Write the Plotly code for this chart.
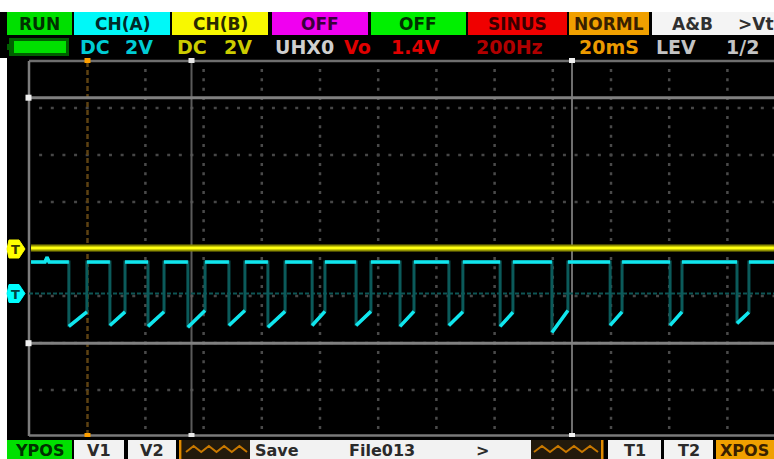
import plotly.graph_objects as go

# ---------------- data ----------------
# CH(A): 2 V/div, timebase 20 ms/div
high_v = 1.34                     # level of the flat tops (V)
start_ms = 0.7
end_ms = 256.0
bump_ms = [5.5, 6.2, 6.9]         # small glitch on the first top
bump_v = [1.34, 1.55, 1.34]
fall_ms = [13.7, 27.8, 40.9, 54.6, 68.7, 82.1, 97.3, 112.4, 127.5, 144.3,
           161.9, 179.7, 199.7, 220.3, 243.3]
rise_ms = [19.9, 33.0, 46.4, 60.5, 74.2, 88.0, 101.7, 117.5, 132.3, 149.1,
           166.3, 185.2, 203.8, 224.4, 247.4]
low_v = [-1.40, -1.36, -1.40, -1.44, -1.36, -1.44, -1.36, -1.36, -1.40, -1.36,
         -1.40, -1.66, -1.36, -1.36, -1.27]
ramp_top_v = [-0.78, -0.78, -0.78, -0.72, -0.72, -0.76, -0.76, -0.76, -0.76, -0.78,
              -0.80, -0.72, -0.78, -0.78, -0.80]
# CH(B): flat trace at 0 V
chb_ms = [0.7, 256.0]
chb_v = [0.0, 0.0]

top_labels = ["RUN", "CH(A)", "CH(B)", "OFF", "OFF", "SINUS", "NORML", "A&B"]
row2_texts = ["DC", "2V", "DC", "2V", "UHX0", "Vo", "1.4V", "200Hz", "20mS", "LEV", "1/2"]
bottom_labels = ["YPOS", "V1", "V2", "T1", "T2", "XPOS"]
save_texts = ["Save", "File013", ">"]

# ---------------- geometry / styling ----------------
W, H = 774, 459
PX_PER_MS = 58.2 / 20.0
PX_PER_V = 47.0 / 2.0
X0 = 29.0            # time 0 pixel
GND_A = 293.5        # CH A ground pixel
GND_B = 248.0        # CH B ground pixel


def X(px):
    return px / W


def Y(py):
    return 1 - py / H


# ---------------- build waveform path ----------------
path_x = [start_ms] + bump_ms
path_y = [high_v] + bump_v
bx, by = [start_ms] + bump_ms, [high_v] + bump_v
for i in range(len(fall_ms)):
    path_x += [fall_ms[i], fall_ms[i], rise_ms[i], rise_ms[i]]
    path_y += [high_v, low_v[i], ramp_top_v[i], high_v]
    bx += [fall_ms[i], None, fall_ms[i], rise_ms[i], None, rise_ms[i]]
    by += [high_v, None, low_v[i], ramp_top_v[i], None, high_v]
path_x.append(end_ms)
path_y.append(high_v)
bx.append(end_ms)
by.append(high_v)

fig = go.Figure()
fig.add_trace(go.Scatter(x=chb_ms, y=chb_v, yaxis="y2", mode="lines",
                         line=dict(color="#8f8f00", width=7), hoverinfo="skip"))
fig.add_trace(go.Scatter(x=chb_ms, y=chb_v, yaxis="y2", mode="lines",
                         line=dict(color="#ffff10", width=3), hoverinfo="skip"))
fig.add_trace(go.Scatter(x=path_x, y=path_y, mode="lines",
                         line=dict(color="#0b5a5a", width=3), hoverinfo="skip"))
fig.add_trace(go.Scatter(x=bx, y=by, mode="lines",
                         line=dict(color="#10e6ee", width=3.5), hoverinfo="skip"))

shapes = []
ann = []


def rect(x0, y0, x1, y1, fill, line_color=None, lw=0, layer="below"):
    shapes.append(dict(type="rect", xref="paper", yref="paper", x0=X(x0), x1=X(x1),
                       y0=Y(y1), y1=Y(y0), fillcolor=fill, layer=layer,
                       line=dict(color=line_color or fill, width=lw)))


def seg(x0, y0, x1, y1, color, width, dash="solid", layer="below"):
    shapes.append(dict(type="line", xref="paper", yref="paper", x0=X(x0), x1=X(x1),
                       y0=Y(y0), y1=Y(y1), layer=layer,
                       line=dict(color=color, width=width, dash=dash)))


def text(s, x, y, color, size, anchor="left", font="DejaVu Sans", bold=True):
    ann.append(dict(text=("<b>%s</b>" % s) if bold else s, xref="paper", yref="paper",
                    x=X(x), y=Y(y), xanchor=anchor, yanchor="middle", showarrow=False,
                    font=dict(family=font, size=size, color=color)))


# white outer strips
rect(0, 0, W, 12, "#ffffff")
rect(0, 0, 7, H, "#ffffff")

# dotted grid
for k in range(2, 13):
    gx = X0 + 58.2 * k
    seg(gx, 61 + 9.4 - 1.5, gx, 436, "#4a4a4a", 2.5, "3px,6.4px")
for j in range(1, 8):
    gy = 61 + 47.0 * j
    seg(X0 + 11.64 - 1.5, gy, W, gy, "#474747", 2.5, "3px,8.64px")

# frame
seg(X0, 61, W, 61, "#6e6e6e", 2.5)
seg(X0, 435.5, W, 435.5, "#7a7a7a", 2.5)
seg(X0, 61, X0, 436, "#7c7c7c", 2.5)

# cursors
seg(87.5, 62, 87.5, 434, "#5e4212", 2.5, "5px,3px")
seg(191.5, 62, 191.5, 434, "#5a5a5a", 2)
seg(572, 62, 572, 434, "#6e6e6e", 2)
seg(X0, 97.7, W, 97.7, "#808080", 3)
seg(X0, 343.2, W, 343.2, "#808080", 3)
# cursor end markers
for (mx, my, c) in [(87.5, 60, "#ffa000"), (87.5, 436, "#ffa000"), (191.5, 60, "#e8e8e8"),
                    (191.5, 436, "#e8e8e8"), (572, 60, "#f0f0f0"), (572, 436, "#f0f0f0"),
                    (28.5, 97.7, "#f0f0f0"), (28.5, 343.2, "#f0f0f0")]:
    rect(mx - 3, my - 3, mx + 3, my + 3, c)

# CH A ground reference line
seg(X0, GND_A, W, GND_A, "#0e5555", 2, "4px,2px")

# channel markers at the left
for (cy, fill, tc) in [(GND_B + 1, "#ffff00", "#3a3a00"), (GND_A, "#00ffff", "#004444")]:
    shapes.append(dict(type="path", xref="paper", yref="paper",
                       path="M %f %f L %f %f L %f %f L %f %f L %f %f L %f %f Z" % (
                           X(9), Y(cy - 9), X(19), Y(cy - 9), X(25), Y(cy), X(19), Y(cy + 9),
                           X(9), Y(cy + 9), X(7), Y(cy)),
                       fillcolor=fill, line=dict(color=fill, width=1), layer="above"))
    text("T", 15, cy + 0.5, tc, 13, "center")

# ---------------- top status bar ----------------
rect(0, 12, W, 58, "#000000", layer="above")
top_boxes = [(7, 72, "#00e000", "#003000"), (74, 170, "#00f8f8", "#002a2a"),
             (172, 268, "#f8f800", "#2a2a00"), (272, 368, "#f000f0", "#3a003a"),
             (371, 466, "#00f000", "#003000"), (468, 567, "#f00000", "#380000"),
             (569, 649, "#f0a000", "#382000"), (652, 774, "#f4f4f4", "#303030")]
for lab, (x0, x1, fill, tc) in zip(top_labels, top_boxes):
    rect(x0, 12, x1, 35, fill, layer="above")
    cx = (x0 + x1) / 2 if lab != "A&B" else 692
    text(lab, cx, 24, tc, 17, "center")
text("&gt;Vt", 736, 24, "#303030", 17)

# battery icon
rect(9, 38, 69, 56, "#006000", layer="above")
rect(14, 41, 66, 53, "#00e000", layer="above")
rect(7, 44, 10, 50, "#006000", layer="above")

row2_pos = [(78, "#00ccd4"), (123, "#00ccd4"), (175, "#cccc00"), (222, "#cccc00"),
            (273, "#cfcfcf"), (342, "#e00000"), (389, "#e00000"), (474, "#b00000"),
            (577, "#eb9a00"), (654, "#c4c4c4"), (724, "#c4c4c4")]
for s, (x, c) in zip(row2_texts, row2_pos):
    text(s, x, 47, c, 19)

# ---------------- bottom bar ----------------
rect(0, 437, W, H, "#000000", layer="above")
rect(0, 437, 7, H, "#ffffff", layer="above")
bottom_boxes = [(7, 72, "#00e000", "#003000"), (74, 124, "#f2f2f2", "#2a2a2a"),
                (128, 176, "#f2f2f2", "#2a2a2a"), (608, 661, "#f2f2f2", "#2a2a2a"),
                (664, 713, "#f2f2f2", "#2a2a2a"), (716, 774, "#f0a000", "#382000")]
for lab, (x0, x1, fill, tc) in zip(bottom_labels, bottom_boxes):
    rect(x0, 440, x1, H, fill, layer="above")
    text(lab, (x0 + x1) / 2 if lab != "XPOS" else 718, 450, tc, 16,
         "center" if lab != "XPOS" else "left")

# save strip
rect(179, 440, 181.5, H, "#e08a00", layer="above")
rect(182, 440, 250, H, "#231a0c", layer="above")
rect(250, 440, 531, H, "#f2f2f2", layer="above")
rect(531, 440, 601, H, "#231a0c", layer="above")
rect(601, 440, 603.5, H, "#e08a00", layer="above")
for (zx0, zx1) in [(186, 247), (534, 598)]:
    pts = []
    n = 8
    for i in range(n + 1):
        pts.append((zx0 + (zx1 - zx0) * i / n, 452 if i % 2 == 0 else 446))
    path = "M " + " L ".join("%f %f" % (X(a), Y(b)) for a, b in pts)
    shapes.append(dict(type="path", xref="paper", yref="paper", path=path,
                       line=dict(color="#c87800", width=2), layer="above"))
for s, x in zip(save_texts, [253, 347, 474]):
    text(s, x, 450, "#2a2a2a", 16)

fig.update_layout(
    width=W, height=H,
    margin=dict(l=0, r=0, t=0, b=0),
    paper_bgcolor="#000000", plot_bgcolor="#000000",
    showlegend=False,
    xaxis=dict(range=[-X0 / PX_PER_MS, (W - X0) / PX_PER_MS], visible=False,
               showgrid=False, zeroline=False, fixedrange=True),
    yaxis=dict(range=[(GND_A - H) / PX_PER_V, GND_A / PX_PER_V], visible=False,
               showgrid=False, zeroline=False, fixedrange=True),
    yaxis2=dict(range=[(GND_B - H) / PX_PER_V, GND_B / PX_PER_V], visible=False,
                overlaying="y", showgrid=False, zeroline=False, fixedrange=True),
    shapes=shapes,
    annotations=ann,
)

fig.write_html("out.html")
